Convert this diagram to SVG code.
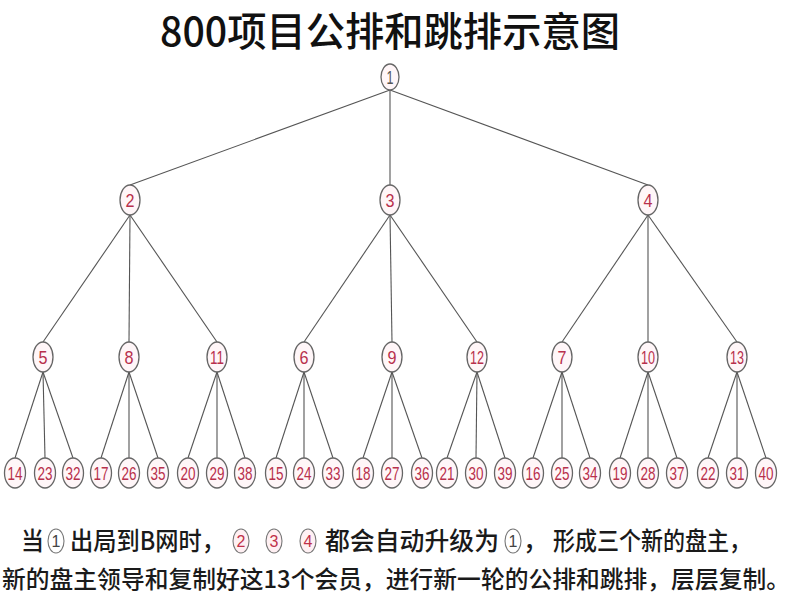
<svg xmlns="http://www.w3.org/2000/svg" width="800" height="600" viewBox="0 0 800 600">
<style>
.bg{fill:#ffffff}
.title{font-family:"Noto Sans CJK SC","Liberation Sans",sans-serif;font-size:40px;font-weight:500;fill:#111}
.edge{stroke:#555;stroke-width:1.1;fill:none}
.node ellipse{fill:#fff6f8;stroke:#666;stroke-width:1.3}
.node text{font-family:"Liberation Sans","DejaVu Sans",sans-serif;font-size:19px;fill:#b8304c;text-anchor:middle}
.note{font-family:"Noto Sans CJK SC","Liberation Sans",sans-serif;font-size:25px;font-weight:500;fill:#1a1a1a}
.note2{font-family:"Noto Sans CJK SC","Liberation Sans",sans-serif;font-size:23.5px;font-weight:500;fill:#1a1a1a}
.ic ellipse{fill:#fff;stroke:#777;stroke-width:1.1}
.ic text{font-family:"Liberation Sans",sans-serif;font-size:16px;text-anchor:middle}
.ic.g text{fill:#444}
.ic.r ellipse{fill:#fff0f3}
.ic.r text{fill:#c0304a}
</style>
<rect class="bg" x="0" y="0" width="800" height="600"/>
<text class="title" x="390" y="46" text-anchor="middle" textLength="460" lengthAdjust="spacingAndGlyphs">800项目公排和跳排示意图</text>

<g id="connectors">
<line class="edge" x1="390" y1="90" x2="130" y2="185"/>
<line class="edge" x1="390" y1="90" x2="390" y2="185"/>
<line class="edge" x1="390" y1="90" x2="648" y2="185"/>
<line class="edge" x1="130" y1="215" x2="43" y2="342"/>
<line class="edge" x1="130" y1="215" x2="129" y2="342"/>
<line class="edge" x1="130" y1="215" x2="217" y2="342"/>
<line class="edge" x1="390" y1="215" x2="304" y2="342"/>
<line class="edge" x1="390" y1="215" x2="392" y2="342"/>
<line class="edge" x1="390" y1="215" x2="477" y2="342"/>
<line class="edge" x1="648" y1="215" x2="562" y2="342"/>
<line class="edge" x1="648" y1="215" x2="648" y2="342"/>
<line class="edge" x1="648" y1="215" x2="737" y2="342"/>
<line class="edge" x1="43" y1="372" x2="15" y2="458"/>
<line class="edge" x1="43" y1="372" x2="45" y2="458"/>
<line class="edge" x1="43" y1="372" x2="73" y2="458"/>
<line class="edge" x1="129" y1="372" x2="101" y2="458"/>
<line class="edge" x1="129" y1="372" x2="129" y2="458"/>
<line class="edge" x1="129" y1="372" x2="158" y2="458"/>
<line class="edge" x1="217" y1="372" x2="188" y2="458"/>
<line class="edge" x1="217" y1="372" x2="217" y2="458"/>
<line class="edge" x1="217" y1="372" x2="245" y2="458"/>
<line class="edge" x1="304" y1="372" x2="276" y2="458"/>
<line class="edge" x1="304" y1="372" x2="304" y2="458"/>
<line class="edge" x1="304" y1="372" x2="333" y2="458"/>
<line class="edge" x1="392" y1="372" x2="363" y2="458"/>
<line class="edge" x1="392" y1="372" x2="392" y2="458"/>
<line class="edge" x1="392" y1="372" x2="422" y2="458"/>
<line class="edge" x1="477" y1="372" x2="447" y2="458"/>
<line class="edge" x1="477" y1="372" x2="476" y2="458"/>
<line class="edge" x1="477" y1="372" x2="505" y2="458"/>
<line class="edge" x1="562" y1="372" x2="533" y2="458"/>
<line class="edge" x1="562" y1="372" x2="562" y2="458"/>
<line class="edge" x1="562" y1="372" x2="590" y2="458"/>
<line class="edge" x1="648" y1="372" x2="620" y2="458"/>
<line class="edge" x1="648" y1="372" x2="648" y2="458"/>
<line class="edge" x1="648" y1="372" x2="677" y2="458"/>
<line class="edge" x1="737" y1="372" x2="708" y2="458"/>
<line class="edge" x1="737" y1="372" x2="737" y2="458"/>
<line class="edge" x1="737" y1="372" x2="766" y2="458"/>
</g>

<g id="n1" class="node"><ellipse cx="390" cy="77" rx="9" ry="13"/><text x="390" y="84" textLength="7" lengthAdjust="spacingAndGlyphs" style="fill:#555">1</text></g>

<g id="n2" class="node"><ellipse cx="130" cy="200" rx="10" ry="15"/><text x="130" y="207" textLength="9" lengthAdjust="spacingAndGlyphs">2</text></g>
<g id="n3" class="node"><ellipse cx="390" cy="200" rx="10" ry="15"/><text x="390" y="207" textLength="9" lengthAdjust="spacingAndGlyphs">3</text></g>
<g id="n4" class="node"><ellipse cx="648" cy="200" rx="10" ry="15"/><text x="648" y="207" textLength="9" lengthAdjust="spacingAndGlyphs">4</text></g>

<g id="n5" class="node"><ellipse cx="43" cy="357" rx="10" ry="15"/><text x="43" y="364" textLength="9" lengthAdjust="spacingAndGlyphs">5</text></g>
<g id="n8" class="node"><ellipse cx="129" cy="357" rx="10" ry="15"/><text x="129" y="364" textLength="9" lengthAdjust="spacingAndGlyphs">8</text></g>
<g id="n11" class="node"><ellipse cx="217" cy="357" rx="10" ry="15"/><text x="217" y="364" textLength="14" lengthAdjust="spacingAndGlyphs">11</text></g>
<g id="n6" class="node"><ellipse cx="304" cy="357" rx="10" ry="15"/><text x="304" y="364" textLength="9" lengthAdjust="spacingAndGlyphs">6</text></g>
<g id="n9" class="node"><ellipse cx="392" cy="357" rx="10" ry="15"/><text x="392" y="364" textLength="9" lengthAdjust="spacingAndGlyphs">9</text></g>
<g id="n12" class="node"><ellipse cx="477" cy="357" rx="10" ry="15"/><text x="477" y="364" textLength="14" lengthAdjust="spacingAndGlyphs">12</text></g>
<g id="n7" class="node"><ellipse cx="562" cy="357" rx="10" ry="15"/><text x="562" y="364" textLength="9" lengthAdjust="spacingAndGlyphs">7</text></g>
<g id="n10" class="node"><ellipse cx="648" cy="357" rx="10" ry="15"/><text x="648" y="364" textLength="14" lengthAdjust="spacingAndGlyphs">10</text></g>
<g id="n13" class="node"><ellipse cx="737" cy="357" rx="10" ry="15"/><text x="737" y="364" textLength="14" lengthAdjust="spacingAndGlyphs">13</text></g>

<g id="n14" class="node"><ellipse cx="15" cy="473" rx="10.5" ry="15"/><text x="15" y="480" textLength="15" lengthAdjust="spacingAndGlyphs">14</text></g>
<g id="n23" class="node"><ellipse cx="45" cy="473" rx="10.5" ry="15"/><text x="45" y="480" textLength="15" lengthAdjust="spacingAndGlyphs">23</text></g>
<g id="n32" class="node"><ellipse cx="73" cy="473" rx="10.5" ry="15"/><text x="73" y="480" textLength="15" lengthAdjust="spacingAndGlyphs">32</text></g>
<g id="n17" class="node"><ellipse cx="101" cy="473" rx="10.5" ry="15"/><text x="101" y="480" textLength="15" lengthAdjust="spacingAndGlyphs">17</text></g>
<g id="n26" class="node"><ellipse cx="129" cy="473" rx="10.5" ry="15"/><text x="129" y="480" textLength="15" lengthAdjust="spacingAndGlyphs">26</text></g>
<g id="n35" class="node"><ellipse cx="158" cy="473" rx="10.5" ry="15"/><text x="158" y="480" textLength="15" lengthAdjust="spacingAndGlyphs">35</text></g>
<g id="n20" class="node"><ellipse cx="188" cy="473" rx="10.5" ry="15"/><text x="188" y="480" textLength="15" lengthAdjust="spacingAndGlyphs">20</text></g>
<g id="n29" class="node"><ellipse cx="217" cy="473" rx="10.5" ry="15"/><text x="217" y="480" textLength="15" lengthAdjust="spacingAndGlyphs">29</text></g>
<g id="n38" class="node"><ellipse cx="245" cy="473" rx="10.5" ry="15"/><text x="245" y="480" textLength="15" lengthAdjust="spacingAndGlyphs">38</text></g>
<g id="n15" class="node"><ellipse cx="276" cy="473" rx="10.5" ry="15"/><text x="276" y="480" textLength="15" lengthAdjust="spacingAndGlyphs">15</text></g>
<g id="n24" class="node"><ellipse cx="304" cy="473" rx="10.5" ry="15"/><text x="304" y="480" textLength="15" lengthAdjust="spacingAndGlyphs">24</text></g>
<g id="n33" class="node"><ellipse cx="333" cy="473" rx="10.5" ry="15"/><text x="333" y="480" textLength="15" lengthAdjust="spacingAndGlyphs">33</text></g>
<g id="n18" class="node"><ellipse cx="363" cy="473" rx="10.5" ry="15"/><text x="363" y="480" textLength="15" lengthAdjust="spacingAndGlyphs">18</text></g>
<g id="n27" class="node"><ellipse cx="392" cy="473" rx="10.5" ry="15"/><text x="392" y="480" textLength="15" lengthAdjust="spacingAndGlyphs">27</text></g>
<g id="n36" class="node"><ellipse cx="422" cy="473" rx="10.5" ry="15"/><text x="422" y="480" textLength="15" lengthAdjust="spacingAndGlyphs">36</text></g>
<g id="n21" class="node"><ellipse cx="447" cy="473" rx="10.5" ry="15"/><text x="447" y="480" textLength="15" lengthAdjust="spacingAndGlyphs">21</text></g>
<g id="n30" class="node"><ellipse cx="476" cy="473" rx="10.5" ry="15"/><text x="476" y="480" textLength="15" lengthAdjust="spacingAndGlyphs">30</text></g>
<g id="n39" class="node"><ellipse cx="505" cy="473" rx="10.5" ry="15"/><text x="505" y="480" textLength="15" lengthAdjust="spacingAndGlyphs">39</text></g>
<g id="n16" class="node"><ellipse cx="533" cy="473" rx="10.5" ry="15"/><text x="533" y="480" textLength="15" lengthAdjust="spacingAndGlyphs">16</text></g>
<g id="n25" class="node"><ellipse cx="562" cy="473" rx="10.5" ry="15"/><text x="562" y="480" textLength="15" lengthAdjust="spacingAndGlyphs">25</text></g>
<g id="n34" class="node"><ellipse cx="590" cy="473" rx="10.5" ry="15"/><text x="590" y="480" textLength="15" lengthAdjust="spacingAndGlyphs">34</text></g>
<g id="n19" class="node"><ellipse cx="620" cy="473" rx="10.5" ry="15"/><text x="620" y="480" textLength="15" lengthAdjust="spacingAndGlyphs">19</text></g>
<g id="n28" class="node"><ellipse cx="648" cy="473" rx="10.5" ry="15"/><text x="648" y="480" textLength="15" lengthAdjust="spacingAndGlyphs">28</text></g>
<g id="n37" class="node"><ellipse cx="677" cy="473" rx="10.5" ry="15"/><text x="677" y="480" textLength="15" lengthAdjust="spacingAndGlyphs">37</text></g>
<g id="n22" class="node"><ellipse cx="708" cy="473" rx="10.5" ry="15"/><text x="708" y="480" textLength="15" lengthAdjust="spacingAndGlyphs">22</text></g>
<g id="n31" class="node"><ellipse cx="737" cy="473" rx="10.5" ry="15"/><text x="737" y="480" textLength="15" lengthAdjust="spacingAndGlyphs">31</text></g>
<g id="n40" class="node"><ellipse cx="766" cy="473" rx="10.5" ry="15"/><text x="766" y="480" textLength="15" lengthAdjust="spacingAndGlyphs">40</text></g>

<g id="caption">
<text class="note" x="21" y="550" textLength="23" lengthAdjust="spacingAndGlyphs">当</text>
<g class="ic g"><ellipse cx="56" cy="541" rx="8" ry="12"/><text x="56" y="547">1</text></g>
<text class="note" x="70" y="550" textLength="155" lengthAdjust="spacingAndGlyphs">出局到B网时，</text>
<g class="ic r"><ellipse cx="241" cy="541" rx="8" ry="12"/><text x="241" y="547">2</text></g>
<g class="ic r"><ellipse cx="274" cy="541" rx="8" ry="12"/><text x="274" y="547">3</text></g>
<g class="ic r"><ellipse cx="308" cy="541" rx="8" ry="12"/><text x="308" y="547">4</text></g>
<text class="note" x="325" y="550" textLength="174" lengthAdjust="spacingAndGlyphs">都会自动升级为</text>
<g class="ic g"><ellipse cx="513" cy="541" rx="8" ry="12"/><text x="513" y="547">1</text></g>
<text class="note" x="523" y="550">，</text>
<text class="note" x="553" y="550" textLength="198" lengthAdjust="spacingAndGlyphs">形成三个新的盘主，</text>
<text class="note2" x="2" y="588" textLength="788" lengthAdjust="spacingAndGlyphs">新的盘主领导和复制好这13个会员，进行新一轮的公排和跳排，层层复制。</text>
</g>
</svg>
